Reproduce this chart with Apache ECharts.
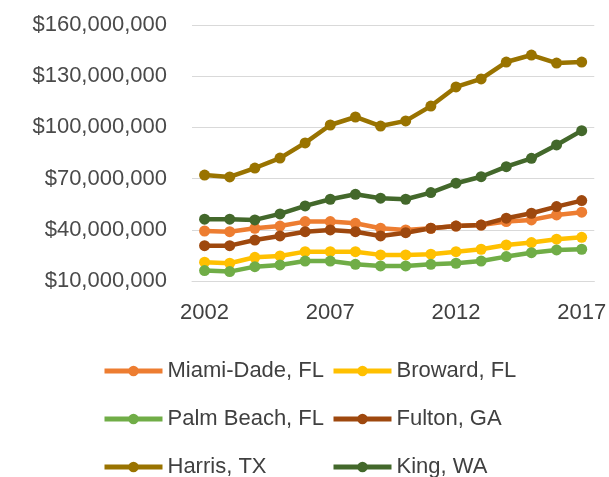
<!DOCTYPE html>
<html>
<head>
<meta charset="utf-8">
<script src="https://cdn.jsdelivr.net/npm/echarts@6/dist/echarts.min.js"></script>
<style>
  html, body { margin: 0; padding: 0; background: #fff; }
  #chart { width: 609px; height: 477px; }
</style>
</head>
<body>
<div id="chart"></div>
<script>
// years on the x axis
var years = ["2002", "2003", "2004", "2005", "2006", "2007", "2008", "2009",
  "2010", "2011", "2012", "2013", "2014", "2015", "2016", "2017"];

// values in dollars (millions)
var miamiDade = [39.3, 38.9, 40.9, 42.2, 44.8, 44.8, 43.8, 40.9, 39.9, 40.9, 42.2, 42.8, 44.8, 45.8, 48.7, 50.3];
var broward = [21.0, 20.4, 23.9, 24.7, 27.2, 27.2, 27.2, 25.3, 25.3, 25.7, 27.2, 28.6, 31.1, 32.5, 34.5, 35.6];
var palmBeach = [16.1, 15.5, 18.4, 19.4, 21.7, 21.7, 19.8, 18.8, 18.8, 19.8, 20.4, 21.7, 24.3, 26.6, 28.2, 28.6];
var fulton = [30.7, 30.7, 34.0, 36.4, 38.9, 39.9, 38.9, 36.4, 38.3, 40.9, 42.2, 42.8, 46.8, 49.7, 53.6, 57.1];
var harris = [72.1, 71.0, 76.2, 82.0, 90.9, 101.4, 106.1, 100.8, 103.8, 112.5, 123.7, 128.4, 138.3, 142.4, 137.7, 138.3];
var king = [46.2, 46.2, 45.8, 49.3, 54.0, 57.9, 60.8, 58.5, 57.9, 61.8, 67.3, 71.1, 77.0, 81.9, 89.7, 98.1];

var seriesNames = ["Miami-Dade, FL", "Broward, FL", "Palm Beach, FL", "Fulton, GA", "Harris, TX", "King, WA"];
var seriesData = [miamiDade, broward, palmBeach, fulton, harris, king];
var colors = ["#ED7D31", "#FFC000", "#70AD47", "#9E480E", "#997300", "#43682B"];

var yTicks = [10000000, 160000000, 30000000]; // min, max, interval

var chart = echarts.init(document.getElementById("chart"));

// legend is laid out in 2 columns x 3 rows, one legend per entry
var legendCols = [97, 326];
var legendRows = [355, 403, 451];
var legends = seriesNames.map(function (name, i) {
  return {
    orient: "horizontal",
    left: legendCols[i % 2],
    top: legendRows[Math.floor(i / 2)],
    itemWidth: 58,
    itemHeight: 13,
    itemGap: 5,
    lineStyle: { width: 5 },
    textStyle: {
      fontFamily: "Liberation Sans",
      fontSize: 22,
      color: "#404040",
    },
    data: [name],
  };
});

chart.setOption({
  animation: false,
  color: colors,
  grid: {
    left: 192,
    right: 9,
    top: 25,
    bottom: 196,
  },
  legend: legends,
  xAxis: {
    type: "category",
    data: years,
    boundaryGap: true,
    axisLine: { lineStyle: { color: "#d9d9d9", width: 1 } },
    axisTick: { show: false },
    axisLabel: {
      interval: 4,
      margin: 21,
      fontFamily: "Liberation Sans",
      fontSize: 22,
      color: "#404040",
    },
  },
  yAxis: {
    type: "value",
    min: yTicks[0],
    max: yTicks[1],
    interval: yTicks[2],
    axisLine: { show: false },
    axisTick: { show: false },
    splitLine: { lineStyle: { color: "#d9d9d9", width: 1 } },
    axisLabel: {
      margin: 25,
      fontFamily: "Liberation Sans",
      fontSize: 22,
      color: "#4a4a4a",
      formatter: function (v) {
        return "$" + v.toLocaleString("en-US");
      },
    },
  },
  series: seriesNames.map(function (name, i) {
    return {
      name: name,
      type: "line",
      data: seriesData[i].map(function (v) { return Math.round(v * 1000000); }),
      symbol: "circle",
      symbolSize: 11,
      lineStyle: { width: 4.5, color: colors[i] },
      itemStyle: { color: colors[i] },
    };
  }),
});
</script>
</body>
</html>
